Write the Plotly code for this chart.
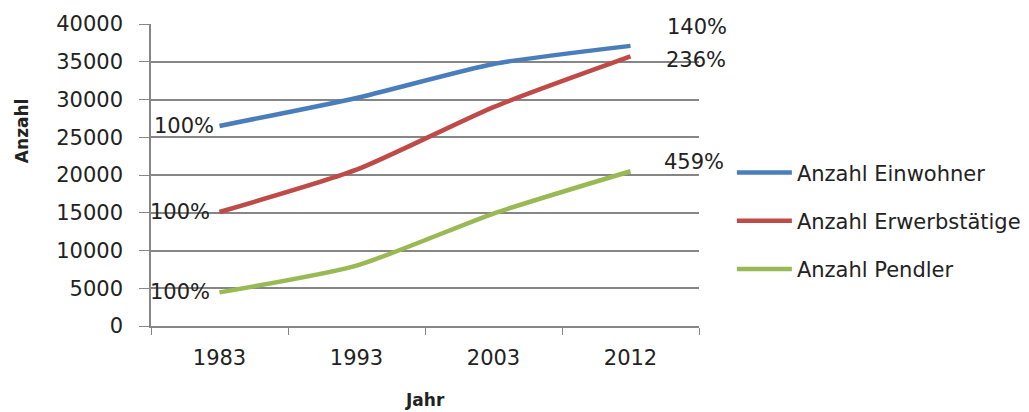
import plotly.graph_objects as go

years = ["1983", "1993", "2003", "2012"]
einwohner = [26500, 30200, 34700, 37100]
erwerbstaetige = [15100, 20700, 29000, 35700]
pendler = [4450, 8000, 14900, 20500]
series_names = ["Anzahl Einwohner", "Anzahl Erwerbstätige", "Anzahl Pendler"]
start_labels = ["100%", "100%", "100%"]
end_labels = ["140%", "236%", "459%"]
y_ticks = [0, 5000, 10000, 15000, 20000, 25000, 30000, 35000, 40000]

colors = ["#4A7EBB", "#BE4B48", "#98B954"]
FONT = "DejaVu Sans"
TXT = "#222222"

fig = go.Figure()
all_series = [einwohner, erwerbstaetige, pendler]
for i, (name, vals) in enumerate(zip(series_names, all_series)):
    fig.add_trace(go.Scatter(
        x=years, y=vals, name=name, mode="lines",
        line=dict(color=colors[i], width=4.5, shape="spline", smoothing=0.6),
        legendgroup=str(i),
    ))

# percentage labels at the first and last point
start_shifts = [-4, -8, -8]
end_shifts = [(34, 19), (33, -4), (31, 9)]
for i, vals in enumerate(all_series):
    fig.add_annotation(x=0, y=vals[0], text=start_labels[i], showarrow=False,
                       xanchor="right", yanchor="middle", xshift=start_shifts[i], yshift=0,
                       font=dict(family=FONT, size=21, color=TXT))
    dx, dy = end_shifts[i]
    fig.add_annotation(x=len(years) - 1, y=vals[-1], text=end_labels[i], showarrow=False,
                       xanchor="left", yanchor="middle", xshift=dx, yshift=dy,
                       font=dict(family=FONT, size=21, color=TXT))

fig.add_annotation(xref="paper", yref="paper", x=0.5, y=-0.245, text="<b>Jahr</b>",
                   showarrow=False, xanchor="center", yanchor="middle",
                   font=dict(family=FONT, size=17, color=TXT))
fig.add_annotation(xref="paper", yref="paper", x=-0.235, y=0.646, text="<b>Anzahl</b>",
                   showarrow=False, textangle=-90, xanchor="center", yanchor="middle",
                   font=dict(family=FONT, size=17, color=TXT))

fig.update_layout(
    width=1029, height=412,
    margin=dict(l=143, r=338, t=16, b=94, autoexpand=False),
    paper_bgcolor="white", plot_bgcolor="white",
    font=dict(family=FONT, size=21, color=TXT),
    showlegend=True,
    legend=dict(x=1.06, y=0.575, xanchor="left", yanchor="top",
                font=dict(family=FONT, size=21, color=TXT),
                itemwidth=55, tracegroupgap=18, traceorder="grouped",
                bgcolor="rgba(0,0,0,0)"),
    xaxis=dict(type="category", tickson="boundaries", ticks="outside", ticklen=7,
               tickcolor="#868686", showgrid=False, showline=True, linecolor="#868686",
               linewidth=1.5, ticklabelstandoff=12, range=[-0.5, 3.5], automargin=False,
               tickfont=dict(family=FONT, size=21, color=TXT)),
    yaxis=dict(range=[0, 40000], tickvals=y_ticks, ticks="outside", ticklen=10,
               tickcolor="#868686", showgrid=True, gridcolor="#868686", gridwidth=1.5,
               showline=True, linecolor="#868686", linewidth=1.5, zeroline=False,
               ticklabelstandoff=12, tickformat="d", automargin=False,
               tickfont=dict(family=FONT, size=21, color=TXT)),
)

fig.write_html("out.html")
